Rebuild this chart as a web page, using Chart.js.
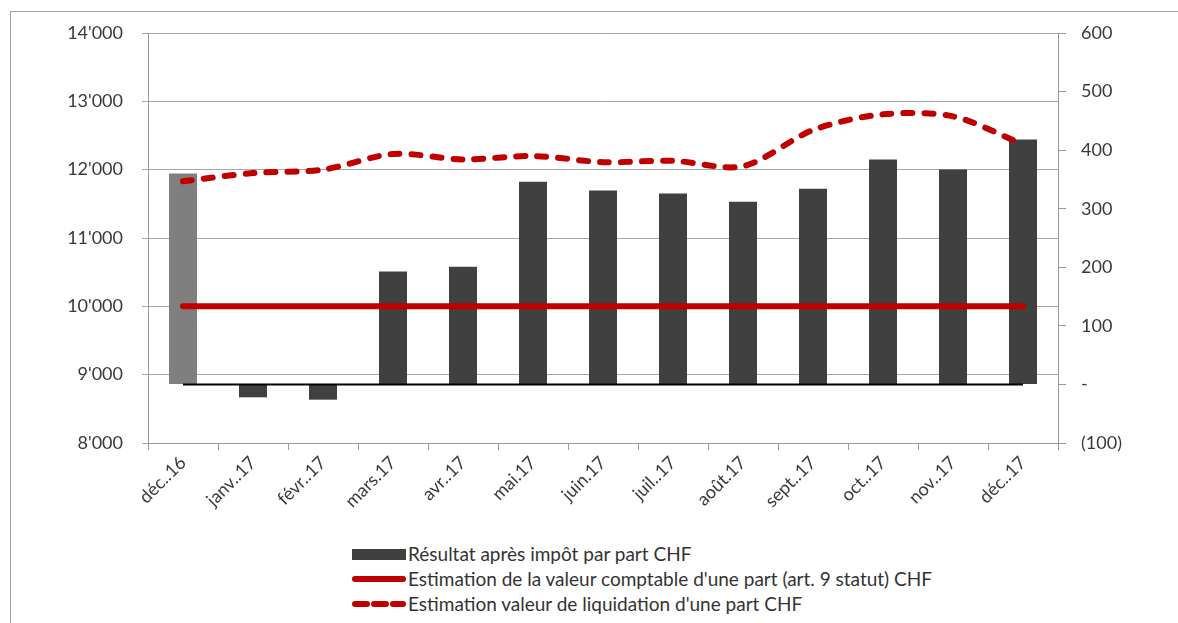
<!DOCTYPE html>
<html lang="fr">
<head>
<meta charset="UTF-8">
<title>Résultat et valeur d'une part</title>
<script src="https://cdn.jsdelivr.net/npm/chart.js"></script>
<style>
    html, body { margin: 0; padding: 0; background: #fff; }
    body { width: 1178px; height: 623px; position: relative; overflow: hidden; font-family: Lato, "DejaVu Sans", sans-serif; }
    .frame { position: absolute; left: 10px; top: 11px; width: 1300px; height: 800px; border-left: 1px solid #a0a0a0; border-top: 1px solid #a0a0a0; }
    .chart-box { position: absolute; left: 0; top: 0; width: 1178px; height: 530px; }
    #legend { position: absolute; left: 352px; top: 541px; }
    .item { display: flex; align-items: center; height: 25px; font-size: 19px; color: #333; }
    .item svg { margin-right: 2px; }
</style>
</head>
<body>
<div class="frame"></div>
<div class="chart-box"><canvas id="chart"></canvas></div>
<div id="legend"></div>

<script>
// data
const categories = ['déc..16', 'janv..17', 'févr..17', 'mars.17', 'avr..17', 'mai.17', 'juin.17',
    'juil..17', 'août.17', 'sept..17', 'oct..17', 'nov..17', 'déc..17'];
const resultatParPart = [360, -22, -26, 193, 201, 346, 331, 326, 312, 334, 384, 367, 418];
const valeurComptable = [10000, 10000, 10000, 10000, 10000, 10000, 10000, 10000, 10000, 10000, 10000, 10000, 10000];
const valeurLiquidation = [11830, 11950, 12000, 12230, 12150, 12200, 12110, 12130, 12050, 12580, 12810, 12780, 12370];
const ligneZero = [0, 0, 0, 0, 0, 0, 0, 0, 0, 0, 0, 0, 0];
const leftMin = 8000, leftMax = 14000, leftStep = 1000;
const rightMin = -100, rightMax = 600, rightStep = 100;

const labels = {
    bar: 'Résultat après impôt par part CHF',
    solid: "Estimation de la valeur comptable d'une part (art. 9 statut) CHF",
    dashed: "Estimation valeur de liquidation d'une part CHF"
};

const RED = '#c00000';
const DARK = '#404040';
const GREY = '#7f7f7f';
const tickFont = { family: 'Lato, "DejaVu Sans", sans-serif', size: 18 };
const tickColor = '#3a3a3a';

function fmtLeft(v) {
    return String(v).replace(/\B(?=(\d{3})+(?!\d))/g, "'");
}
function fmtRight(v) {
    if (v === 0) return '-';
    if (v < 0) return '(' + (-v) + ')';
    return String(v);
}

const chart = new Chart(document.getElementById('chart'), {
    type: 'bar',
    data: {
        labels: categories,
        datasets: [
            {
                label: labels.solid,
                type: 'line',
                data: valeurComptable,
                yAxisID: 'y',
                borderColor: RED,
                borderWidth: 6,
                borderCapStyle: 'round',
                pointRadius: 0,
                order: 1
            },
            {
                label: labels.dashed,
                type: 'line',
                data: valeurLiquidation,
                yAxisID: 'y',
                borderColor: RED,
                borderWidth: 6,
                borderDash: [9, 12],
                borderCapStyle: 'round',
                tension: 0.3,
                pointRadius: 0,
                order: 1
            },
            {
                label: 'zero',
                type: 'line',
                data: ligneZero,
                yAxisID: 'y1',
                borderColor: '#000',
                borderWidth: 2,
                pointRadius: 0,
                order: 2
            },
            {
                label: labels.bar,
                data: resultatParPart,
                yAxisID: 'y1',
                backgroundColor: categories.map((c, i) => i === 0 ? GREY : DARK),
                barPercentage: 0.4,
                categoryPercentage: 1,
                order: 3
            }
        ]
    },
    options: {
        responsive: true,
        maintainAspectRatio: false,
        animation: false,
        layout: { padding: { top: 33, left: 0, right: 0, bottom: 0 } },
        plugins: {
            legend: { display: false },
            tooltip: { enabled: false }
        },
        scales: {
            x: {
                offset: true,
                grid: { drawOnChartArea: false, drawTicks: true, tickLength: 7, color: '#999', offset: true },
                border: { color: '#999' },
                ticks: { minRotation: 45, maxRotation: 45, autoSkip: false, font: tickFont, color: tickColor, padding: 2 },
                afterFit: s => { s.height = 87; }
            },
            y: {
                position: 'left',
                min: leftMin,
                max: leftMax,
                grid: { color: '#a6a6a6', tickLength: 6 },
                border: { color: '#999' },
                ticks: { stepSize: leftStep, font: tickFont, color: tickColor, padding: 19, callback: fmtLeft },
                afterFit: s => { s.width = 148; }
            },
            y1: {
                position: 'right',
                min: rightMin,
                max: rightMax,
                grid: { drawOnChartArea: false, tickLength: 8, color: '#999' },
                border: { color: '#999' },
                ticks: { stepSize: rightStep, font: tickFont, color: tickColor, padding: 15, callback: fmtRight },
                afterFit: s => { s.width = 120; }
            }
        }
    }
});

// legend: one entry per line, built from the datasets
const legendEl = document.getElementById('legend');
[3, 0, 1].forEach(idx => {
    const ds = chart.data.datasets[idx];
    const row = document.createElement('div');
    row.className = 'item';
    let mark;
    if (ds.type === 'line') {
        const dash = ds.borderDash ? 'stroke-dasharray="12,7"' : '';
        mark = '<svg width="54" height="12"><line x1="3" y1="6" x2="51" y2="6" stroke="' + ds.borderColor +
            '" stroke-width="6" stroke-linecap="round" ' + dash + '/></svg>';
    } else {
        mark = '<svg width="54" height="12"><rect x="0" y="1" width="54" height="11" fill="' + DARK + '"/></svg>';
    }
    row.innerHTML = mark + '<span>' + ds.label + '</span>';
    legendEl.appendChild(row);
});
</script>
</body>
</html>
